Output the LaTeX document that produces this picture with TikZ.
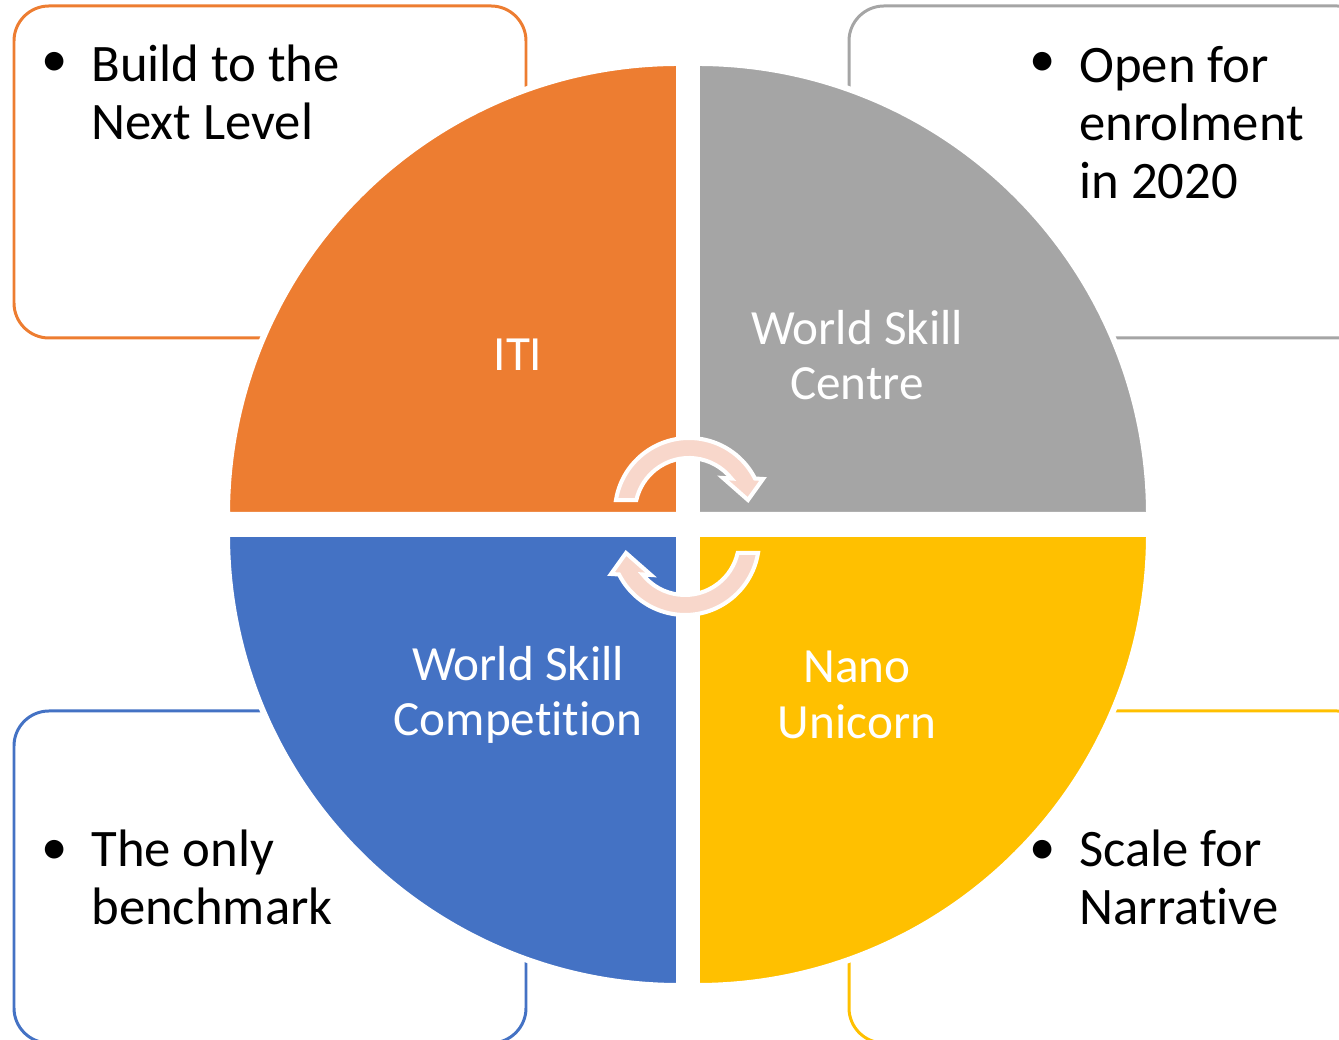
\documentclass[tikz,border=0pt]{standalone}
\usepackage{fontspec}
\setmainfont{Carlito}[Ligatures={NoCommon,NoContextual,NoRare}, Contextuals=NoAlternate]
\definecolor{itiorange}{HTML}{ED7D31}
\definecolor{centregray}{HTML}{A5A5A5}
\definecolor{compblue}{HTML}{4472C4}
\definecolor{nanoyellow}{HTML}{FFC000}
\definecolor{cyclepink}{HTML}{F8D7CB}
\begin{document}
\begin{tikzpicture}[x=0.02cm, y=0.02cm,
    infobox/.style={line width=1.7pt, rounded corners=0.7cm},
    quarter/.style={draw=white, line width=3.4pt},
    boxtext/.style={anchor=north west, inner sep=0pt, align=left,
      font=\fontsize{30}{32.9}\selectfont},
    bulletmark/.style={inner sep=0pt, font=\fontsize{30}{32.9}\selectfont},
    quartertext/.style={text=white, align=center,
      font=\fontsize{28}{31.7}\selectfont},
    cyclearrow/.style={fill=cyclepink, draw=white, line width=2.3pt}]
  \useasboundingbox (0, 0) rectangle (1339, 1040);
  % boxes behind the circle
  \draw[infobox, itiorange] (14, 702) rectangle (526, 1034);
  \draw[infobox, centregray] (849, 702) rectangle (1372, 1034);
  \draw[infobox, compblue] (14, -3) rectangle (526, 329);
  \draw[infobox, nanoyellow] (849, -3) rectangle (1372, 329);
  % the four quarters
  \draw[quarter, fill=itiorange] (679, 525) -- (227, 525)
       arc[start angle=180, end angle=90, radius=452] -- cycle;
  \draw[quarter, fill=centregray] (697, 525) -- (697, 977)
       arc[start angle=90, end angle=0, radius=452] -- cycle;
  \draw[quarter, fill=compblue] (679, 506) -- (679, 54)
       arc[start angle=270, end angle=180, radius=452] -- cycle;
  \draw[quarter, fill=nanoyellow] (697, 506) -- (1149, 506)
       arc[start angle=0, end angle=-90, radius=452] -- cycle;
  % round arrows in the middle
  \foreach \turn in {0, 180} {
    \draw[cyclearrow, rotate around={\turn:(687, 513.5)}, shift={(689, 528)}]
         (170.7:74) arc[start angle=170.7, end angle=26.9, radius=74]
         -- (74, 33) -- (59, 12) -- (34, 34)
         -- (38.3:54) arc[start angle=38.3, end angle=167.2, radius=54] -- cycle;
  }
  \node[quartertext] (iti) at (518, 685) {ITI};
  \node[quartertext] (centre) at (857, 685) {World Skill\\Centre};
  \node[quartertext] (competition) at (518, 345) {World Skill\\Competit\kern0pt ion};
  \node[quartertext] (nano) at (857, 345) {Nano\\Unicorn};
  % bullet texts
  \node[boxtext] (levelText) at (91, 995) {Build to the\\Next Level};
  \node[bulletmark] (levelDot) at (55, 976) {\textbullet};
  \node[boxtext] (openText) at (1079, 994) {Open for\\enrolment\\in 2020};
  \node[bulletmark] (openDot) at (1043, 976) {\textbullet};
  \node[boxtext] (markText) at (91, 210) {The only\\benchmark};
  \node[bulletmark] (markDot) at (55, 188) {\textbullet};
  \node[boxtext] (scaleText) at (1079, 210) {Scale for\\Narrat\kern0pt ive};
  \node[bulletmark] (scaleDot) at (1043, 188) {\textbullet};
\end{tikzpicture}
\end{document}
